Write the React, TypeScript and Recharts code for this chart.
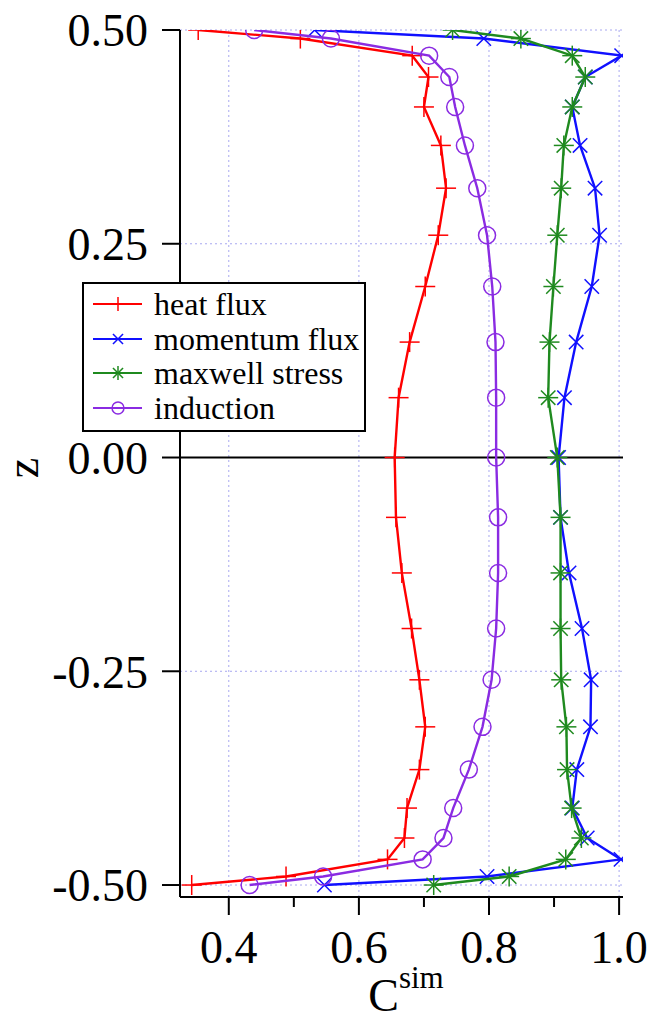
import { ScatterChart, Scatter, XAxis, YAxis, CartesianGrid, ReferenceLine, Legend } from 'recharts'

// depth levels (z) shared by every profile, top to bottom
const zLevels = [0.5, 0.49, 0.47, 0.445, 0.41, 0.365, 0.315, 0.26, 0.2, 0.135, 0.07, 0, -0.07, -0.135, -0.2, -0.26, -0.315, -0.365, -0.41, -0.445, -0.47, -0.49, -0.5]

const heatFlux = [0.353, 0.51, 0.682, 0.707, 0.7, 0.726, 0.734, 0.722, 0.702, 0.678, 0.661, 0.655, 0.657, 0.666, 0.681, 0.693, 0.702, 0.693, 0.674, 0.67, 0.644, 0.488, 0.343]
const momentumFlux = [0.532, 0.792, 1.004, 0.948, 0.928, 0.94, 0.963, 0.97, 0.958, 0.934, 0.916, 0.907, 0.91, 0.923, 0.943, 0.957, 0.956, 0.935, 0.928, 0.951, 1.003, 0.797, 0.547]
const maxwellStress = [0.744, 0.849, 0.928, 0.948, 0.928, 0.915, 0.911, 0.905, 0.899, 0.893, 0.891, 0.905, 0.91, 0.91, 0.91, 0.911, 0.919, 0.92, 0.927, 0.942, 0.918, 0.831, 0.715]
const induction = [0.439, 0.557, 0.708, 0.739, 0.748, 0.763, 0.782, 0.797, 0.805, 0.81, 0.811, 0.811, 0.814, 0.814, 0.811, 0.804, 0.79, 0.769, 0.745, 0.73, 0.698, 0.545, 0.432]

const xTicks = [0.4, 0.5, 0.6, 0.7, 0.8, 0.9, 1.0]
const xMajor = [0.4, 0.6, 0.8, 1.0]
const yTicks = [-0.5, -0.25, 0, 0.25, 0.5]

const FONT = '"Liberation Serif", "Times New Roman", serif'

type Kind = 'plus' | 'cross' | 'star' | 'circle'

const series: { name: string; values: number[]; color: string; kind: Kind }[] = [
  { name: 'heat flux', values: heatFlux, color: '#ff0000', kind: 'plus' },
  { name: 'momentum flux', values: momentumFlux, color: '#1010ff', kind: 'cross' },
  { name: 'maxwell stress', values: maxwellStress, color: '#1f8a1f', kind: 'star' },
  { name: 'induction', values: induction, color: '#8a2be2', kind: 'circle' },
]

const toRows = (values: number[]) => values.map((c, i) => ({ c, z: zLevels[i] }))

function Glyph({ kind, x, y, s, color }: { kind: Kind; x: number; y: number; s: number; color: string }) {
  const d = s * 0.72
  const st = { stroke: color, strokeWidth: 1.5, fill: 'none' }
  if (kind === 'plus') return <g {...st}><line x1={x - s} y1={y} x2={x + s} y2={y} /><line x1={x} y1={y - s} x2={x} y2={y + s} /></g>
  if (kind === 'cross') return <g {...st}><line x1={x - d} y1={y - d} x2={x + d} y2={y + d} /><line x1={x - d} y1={y + d} x2={x + d} y2={y - d} /></g>
  if (kind === 'star') return <g {...st}>
    <line x1={x - s} y1={y} x2={x + s} y2={y} /><line x1={x} y1={y - s} x2={x} y2={y + s} />
    <line x1={x - d} y1={y - d} x2={x + d} y2={y + d} /><line x1={x - d} y1={y + d} x2={x + d} y2={y - d} />
  </g>
  return <circle cx={x} cy={y} r={s * 0.85} {...st} />
}

const shapeFor = (kind: Kind, color: string) => (p: any) => <Glyph kind={kind} x={p.cx} y={p.cy} s={10} color={color} />

const XTick = ({ x, y, payload }: any) => {
  const major = xMajor.includes(payload.value)
  return <g>
    <line x1={x} y1={y} x2={x} y2={y + (major ? 18 : 10)} stroke="#000" strokeWidth={2} />
    {major && <text x={x} y={y + 66} textAnchor="middle" fontSize={46} fontFamily={FONT} fill="#000">{payload.value.toFixed(1)}</text>}
  </g>
}

const LegendBox = () => (
  <div style={{ border: '2px solid #000', background: '#fff', boxSizing: 'border-box', width: 284, height: 150, padding: '3px 0 0 0', fontFamily: FONT, fontSize: 32 }}>
    {series.map(s => (
      <div key={s.name} style={{ display: 'flex', alignItems: 'center', height: 34.5, lineHeight: '34px' }}>
        <svg width={70} height={34} style={{ flex: 'none' }}>
          <line x1={9} y1={17} x2={58} y2={17} stroke={s.color} strokeWidth={2} />
          <Glyph kind={s.kind} x={34} y={17} s={7} color={s.color} />
        </svg>
        <span style={{ color: '#000', whiteSpace: 'nowrap' }}>{s.name}</span>
      </div>
    ))}
  </div>
)

export default function App() {
  return (
    <div style={{ width: 655, height: 1020, position: 'relative', background: '#fff' }}>
      <style>{'body{margin:0}'}</style>
      <ScatterChart width={655} height={1020} margin={{ top: 30, right: 32, bottom: 43, left: 60 }}>
        <CartesianGrid vertical={false} stroke="#a8a8f0" strokeDasharray="2 3" />
        {xMajor.map(v => <ReferenceLine key={v} x={v} stroke="#a8a8f0" strokeDasharray="2 3" />)}
        <ReferenceLine y={0} stroke="#000" strokeWidth={2} />
        <XAxis
          type="number" dataKey="c" domain={[0.325, 1.006]} allowDataOverflow ticks={xTicks} height={80}
          axisLine={{ stroke: '#000', strokeWidth: 2 }} tickLine={false} tickSize={0} tickMargin={0} tick={<XTick />}
          label={{
            content: () => (
              <text x={406} y={1011} textAnchor="middle" fontFamily={FONT} fill="#000">
                <tspan fontSize={46}>C</tspan><tspan fontSize={31} dy={-23}>sim</tspan>
              </text>
            ),
          }}
        />
        <YAxis
          type="number" dataKey="z" domain={[-0.514, 0.5]} allowDataOverflow ticks={yTicks} width={120}
          axisLine={{ stroke: '#000', strokeWidth: 2 }} tickLine={{ stroke: '#000', strokeWidth: 2 }} tickSize={18} tickMargin={14}
          tick={{ fontSize: 46, fontFamily: FONT, fill: '#000' }} tickFormatter={(v: number) => v.toFixed(2)}
          label={{
            content: () => (
              <text x={22} y={468} transform="rotate(-90, 22, 468)" textAnchor="middle" dominantBaseline="central" fontSize={46} fontFamily={FONT} fill="#000">z</text>
            ),
          }}
        />
        {series.map(s => (
          <Scatter key={s.name} name={s.name} data={toRows(s.values)} line={{ stroke: s.color, strokeWidth: 2.4 }}
            shape={shapeFor(s.kind, s.color)} isAnimationActive={false} />
        ))}
        <Legend layout="vertical" align="center" verticalAlign="middle" content={<LegendBox />}
          wrapperStyle={{ position: 'absolute', left: 82, top: 282, width: 284, height: 150 }} />
      </ScatterChart>
    </div>
  )
}
